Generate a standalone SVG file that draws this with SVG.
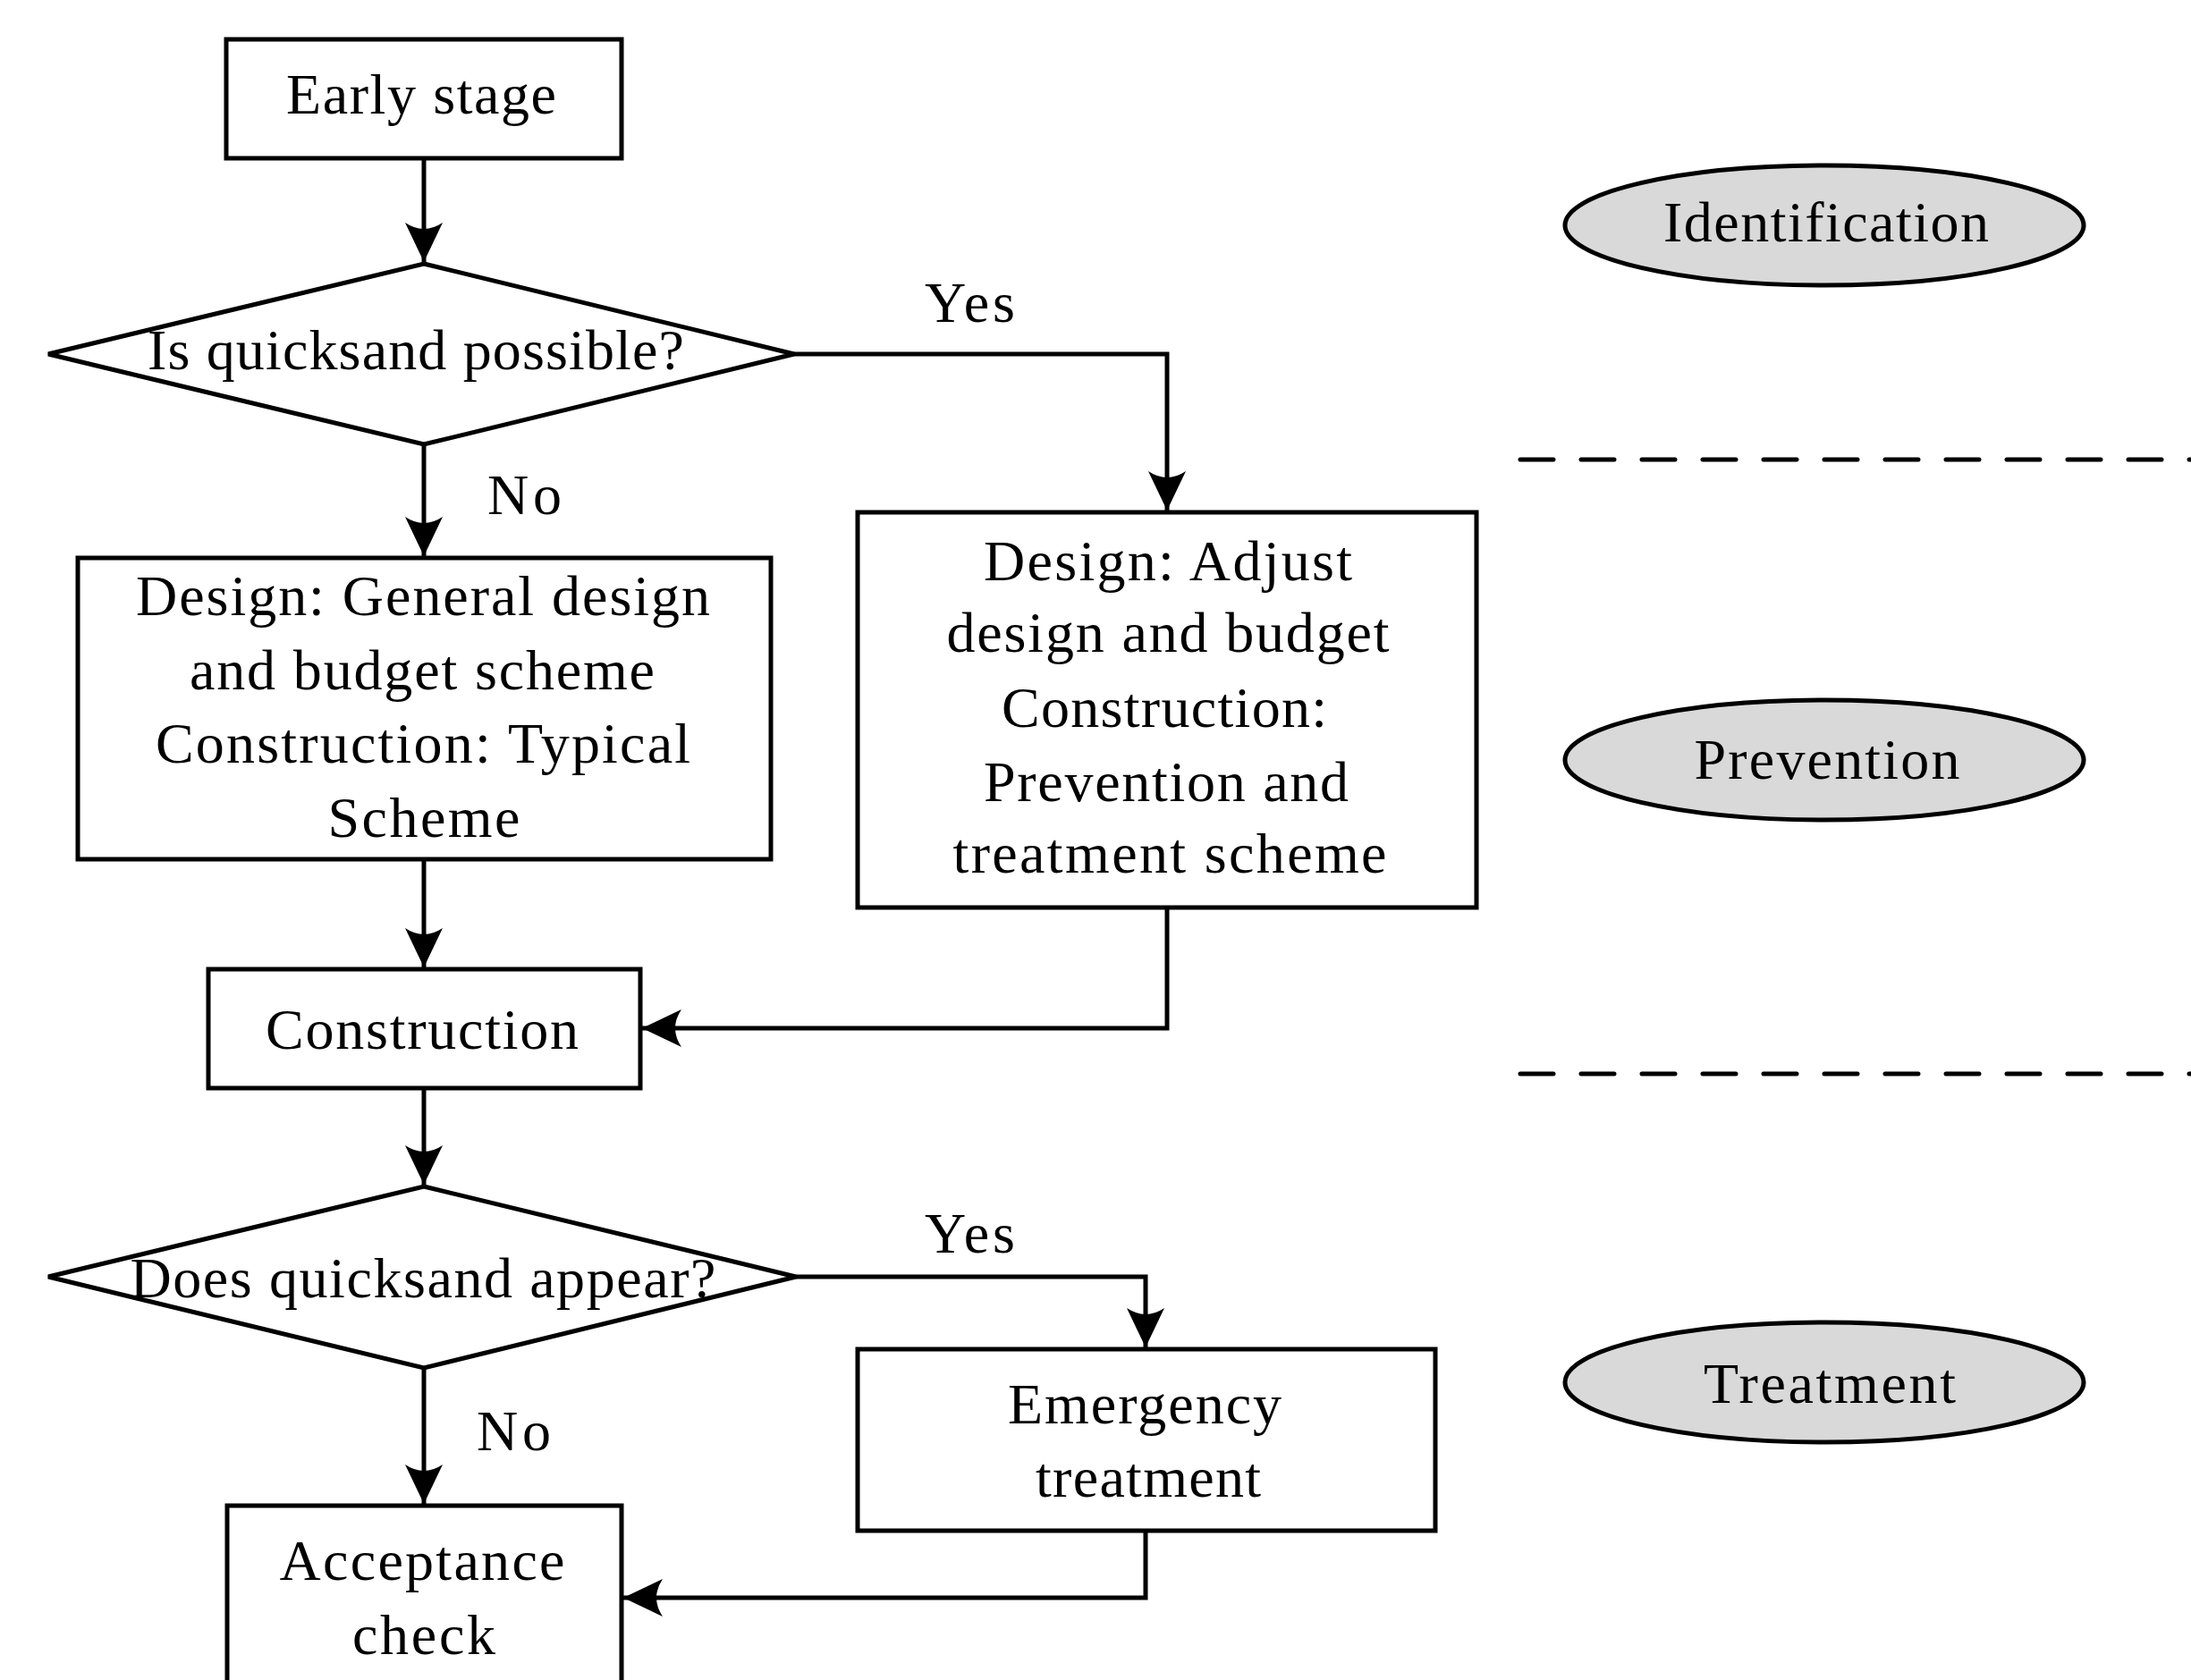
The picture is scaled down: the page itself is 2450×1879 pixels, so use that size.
<svg xmlns="http://www.w3.org/2000/svg" width="2450" height="1879" viewBox="0 0 2450 1879">
<style>
  .box{fill:#fff;stroke:#000;stroke-width:5}
  .ell{fill:#d9d9d9;stroke:#000;stroke-width:5}
  .t{font-family:"Liberation Serif","Times New Roman",serif;font-size:64px;fill:#000;text-anchor:middle}
  .lbl{font-family:"Liberation Serif","Times New Roman",serif;font-size:64px;fill:#000}
  .c{fill:none;stroke:#000;stroke-width:5;stroke-linejoin:miter}
  .dash{fill:none;stroke:#000;stroke-width:5;stroke-dasharray:37 31;stroke-linecap:round}
</style>
<defs>
  <marker id="arr" markerUnits="userSpaceOnUse" markerWidth="46" markerHeight="44" refX="44" refY="21" orient="auto" overflow="visible">
    <path d="M0,0 L44,21 L0,42 Q14,21 0,0 Z" fill="#000"/>
  </marker>
</defs>
<rect width="2450" height="1879" fill="#fff"/>

<g id="connectors">
  <path class="c" d="M474,177 V293" marker-end="url(#arr)"/>
  <path class="c" d="M888,396 H1305 V571" marker-end="url(#arr)"/>
  <path class="c" d="M474,497 V622" marker-end="url(#arr)"/>
  <path class="c" d="M474,961 V1082" marker-end="url(#arr)"/>
  <path class="c" d="M1305,1015 V1150 H718" marker-end="url(#arr)"/>
  <path class="c" d="M474,1217 V1325" marker-end="url(#arr)"/>
  <path class="c" d="M890,1428 H1281 V1507" marker-end="url(#arr)"/>
  <path class="c" d="M474,1530 V1682" marker-end="url(#arr)"/>
  <path class="c" d="M1281,1712 V1787 H697" marker-end="url(#arr)"/>
</g>

<g id="labels">
  <text class="lbl" x="1034" y="360" textLength="101">Yes</text>
  <text class="lbl" x="545" y="575" textLength="83">No</text>
  <text class="lbl" x="1034" y="1401" textLength="101">Yes</text>
  <text class="lbl" x="533" y="1622" textLength="83">No</text>
</g>

<g id="dividers">
  <line class="dash" x1="1700" y1="514" x2="2450" y2="514"/>
  <line class="dash" x1="1700" y1="1201" x2="2450" y2="1201"/>
</g>

<g id="early-stage">
  <rect class="box" x="253" y="44" width="442" height="133"/>
  <text class="t" x="471" y="127" textLength="302">Early stage</text>
</g>

<g id="decision-possible">
  <polygon class="box" points="474,295 888,396 474,497 54,396"/>
  <text class="t" x="465" y="413" textLength="600">Is quicksand possible?</text>
</g>

<g id="general-design">
  <rect class="box" x="87" y="624" width="775" height="337"/>
  <text class="t" x="473" y="688" textLength="642">Design: General design</text>
  <text class="t" x="472" y="771" textLength="520">and budget scheme</text>
  <text class="t" x="473" y="853" textLength="598">Construction: Typical</text>
  <text class="t" x="474" y="936" textLength="215">Scheme</text>
</g>

<g id="adjust-design">
  <rect class="box" x="959" y="573" width="692" height="442"/>
  <text class="t" x="1306" y="649" textLength="412">Design: Adjust</text>
  <text class="t" x="1306" y="729" textLength="495">design and budget</text>
  <text class="t" x="1302" y="813" textLength="364">Construction:</text>
  <text class="t" x="1304" y="896" textLength="408">Prevention and</text>
  <text class="t" x="1308" y="976" textLength="485">treatment scheme</text>
</g>

<g id="construction">
  <rect class="box" x="233" y="1084" width="483" height="133"/>
  <text class="t" x="472" y="1173" textLength="350">Construction</text>
</g>

<g id="decision-appear">
  <polygon class="box" points="474,1327 890,1428 474,1530 54,1428"/>
  <text class="t" x="473" y="1451" textLength="655">Does quicksand appear?</text>
</g>

<g id="emergency">
  <rect class="box" x="959" y="1509" width="646" height="203"/>
  <text class="t" x="1280" y="1592" textLength="306">Emergency</text>
  <text class="t" x="1284" y="1674" textLength="252">treatment</text>
</g>

<g id="acceptance">
  <rect class="box" x="254" y="1684" width="441" height="230"/>
  <text class="t" x="472" y="1767" textLength="319">Acceptance</text>
  <text class="t" x="474" y="1850" textLength="160">check</text>
</g>

<g id="identification">
  <ellipse class="ell" cx="2040" cy="252" rx="290" ry="67"/>
  <text class="t" x="2042" y="270" textLength="364">Identification</text>
</g>

<g id="prevention">
  <ellipse class="ell" cx="2040" cy="850" rx="290" ry="67"/>
  <text class="t" x="2043" y="871" textLength="297">Prevention</text>
</g>

<g id="treatment">
  <ellipse class="ell" cx="2040" cy="1546" rx="290" ry="67"/>
  <text class="t" x="2046" y="1569" textLength="282">Treatment</text>
</g>
</svg>
